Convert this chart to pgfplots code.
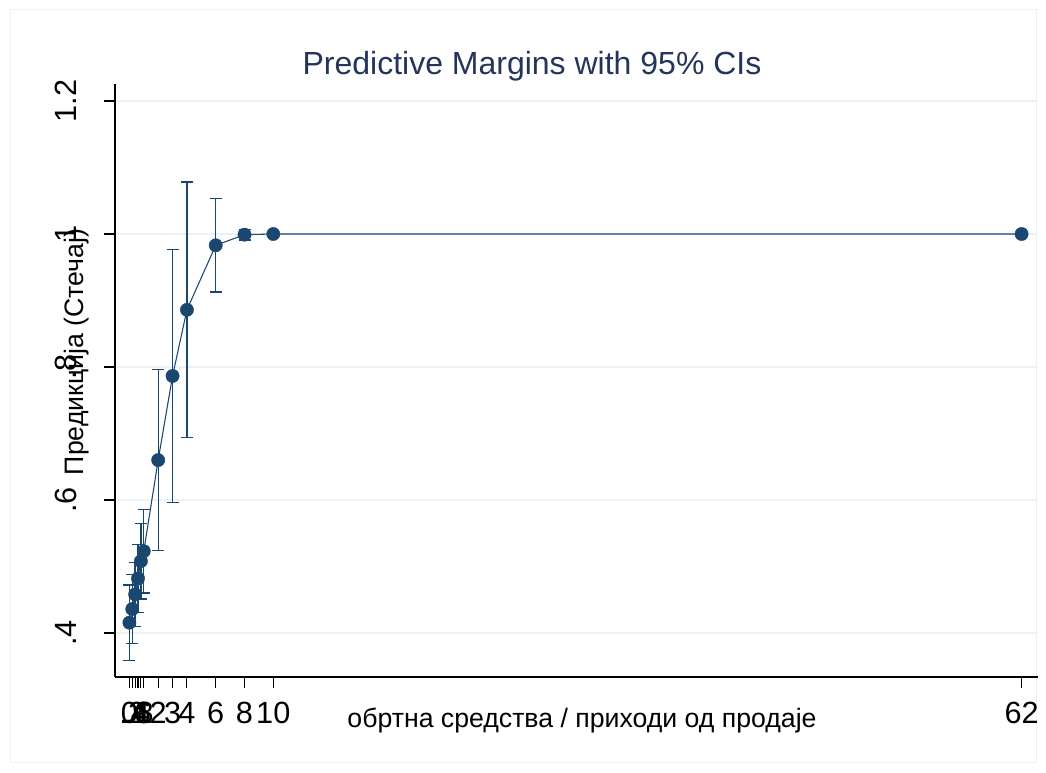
\documentclass[border=0pt]{standalone}
\usepackage{fontspec}
\setmainfont{Liberation Sans}
\usepackage{pgfplots}
\pgfplotsset{compat=1.18}
\definecolor{snavy}{HTML}{1A476F}
\definecolor{gridc}{RGB}{234,242,243}
\definecolor{titlec}{HTML}{24345A}
\begin{document}
\begin{tikzpicture}[x=1pt,y=1pt]
\useasboundingbox (0,0) rectangle (784.5,579.75);
\draw[gridc, line width=0.75pt] (7.5,7.5) rectangle (777,572.25);
\begin{axis}[
  at={(86.25pt,72pt)}, anchor=south west,
  scale only axis, width=692.25pt, height=444.75pt,
  xmin=-1, xmax=63.14, ymin=0.3338, ymax=1.2256,
  axis lines*=left,
  axis line style={black, line width=0.9pt},
  tick align=outside, tick pos=left,
  major tick length=8pt,
  tick style={black, line width=0.8pt},
  xtick={0,0.2,0.4,0.6,0.8,1,2,3,4,6,8,10,62},
  xticklabels={0,.2,.4,.6,.8,1,2,3,4,6,8,10,62},
  ytick={0.4,0.6,0.8,1,1.2},
  yticklabels={.4,.6,.8,1,1.2},
  xticklabel style={font=\fontsize{23}{27}\selectfont, anchor=base, yshift=-27pt, inner sep=0pt},
  yticklabel style={font=\fontsize{23}{27}\selectfont, xshift=-21pt, rotate=90, anchor=base, inner sep=0pt},
  ymajorgrids, grid style={gridc, line width=0.9pt},
  clip=false,
]
\addplot+[snavy, line width=0.8pt, mark=*, mark size=5pt,
  mark options={fill=snavy, draw=snavy, line width=0.3pt},
  error bars/.cd, y dir=both, y explicit,
  error mark=-, error mark options={rotate=90, mark size=4.5pt, line width=1pt, snavy},
  error bar style={line width=1pt, snavy}]
coordinates {
(0,0.4155) +- (0,0.0565)
(0.2,0.436) +- (0,0.0515)
(0.4,0.458) +- (0,0.048)
(0.6,0.482) +- (0,0.051)
(0.8,0.508) +- (0,0.057)
(1,0.523) +- (0,0.063)
(2,0.660) +- (0,0.136)
(3,0.7865) +- (0,0.190)
(4,0.886) +- (0,0.192)
(6,0.983) +- (0,0.0702)
(8,0.999) +- (0,0.008)
(10,1.0) +- (0,0.001)
(62,1.0) +- (0,0.0)
};
\node[anchor=base, font=\fontsize{24}{28}\selectfont, text=titlec, inner sep=0pt] at (axis description cs:0.4518,1.0152) {Predictive Margins with 95\% CIs};
\node[anchor=base, font=\fontsize{20}{24}\selectfont, inner sep=0pt] at (axis description cs:0.506,-0.086) {обртна средства / приходи од продаје};
\node[anchor=base, rotate=90, font=\fontsize{20}{24}\selectfont, inner sep=0pt] at (axis description cs:-0.0336,0.548) {Предикција (Стечај)};
\end{axis}
\end{tikzpicture}
\end{document}
